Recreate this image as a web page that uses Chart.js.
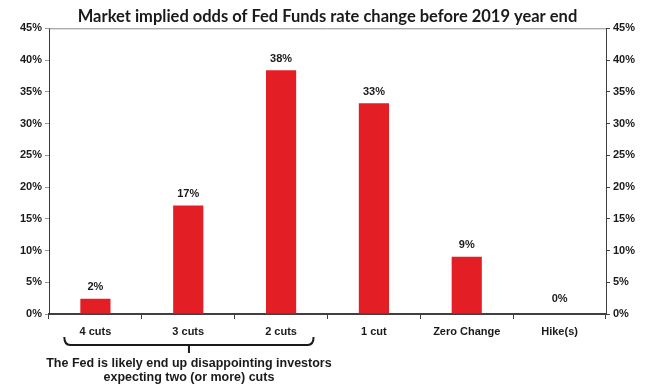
<!DOCTYPE html>
<html>
<head>
<meta charset="utf-8">
<script src="https://cdn.jsdelivr.net/npm/chart.js@4"></script>
<style>
  html, body { margin: 0; padding: 0; background: #fff; }
  #wrap { width: 655px; height: 387px; }
</style>
</head>
<body>
<div id="wrap"><canvas id="oddsChart" width="655" height="387"></canvas></div>
<script>
// Data
const categories = ["4 cuts", "3 cuts", "2 cuts", "1 cut", "Zero Change", "Hike(s)"];
const odds = [2.4, 17.1, 38.4, 33.2, 9.0, 0];
const oddsLabels = ["2%", "17%", "38%", "33%", "9%", "0%"];
const yTicks = [0, 5, 10, 15, 20, 25, 30, 35, 40, 45];
const noteLines = ["The Fed is likely end up disappointing investors", "expecting two (or more) cuts"];

const tickFont = { family: "'Liberation Sans', Arial, sans-serif", size: 11, weight: "bold" };

// labels on top of bars + top frame line + bracket note
const extrasPlugin = {
  id: "extras",
  afterDatasetsDraw(chart) {
    const ctx = chart.ctx;
    const area = chart.chartArea;
    const meta = chart.getDatasetMeta(0);
    ctx.save();
    // top border
    ctx.strokeStyle = "#8c8c8c";
    ctx.lineWidth = 1;
    ctx.beginPath();
    ctx.moveTo(area.left, area.top + 0.5);
    ctx.lineTo(area.right, area.top + 0.5);
    ctx.stroke();

    // value labels
    ctx.fillStyle = "#1a1a1a";
    ctx.font = "bold 11px 'Liberation Sans', Arial, sans-serif";
    ctx.textAlign = "center";
    ctx.textBaseline = "bottom";
    meta.data.forEach((bar, i) => {
      const gap = odds[i] === 0 ? 10 : 6;
      ctx.fillText(oddsLabels[i], bar.x, bar.y - gap);
    });

    // bracket under the first three categories
    const x = chart.scales.x;
    const half = (x.getPixelForValue(1) - x.getPixelForValue(0)) / 2;
    const x0 = x.getPixelForValue(0) - half * 0.67;
    const x1 = x.getPixelForValue(2) + half * 0.7;
    const mid = (x0 + x1) / 2;
    const yTop = 337, yBot = 345;
    ctx.strokeStyle = "#1a1a1a";
    ctx.lineWidth = 2;
    ctx.beginPath();
    ctx.moveTo(x0, yTop);
    ctx.quadraticCurveTo(x0, yBot, x0 + 6, yBot);
    ctx.lineTo(x1 - 6, yBot);
    ctx.quadraticCurveTo(x1, yBot, x1, yTop);
    ctx.moveTo(mid, yBot);
    ctx.lineTo(mid, yBot + 8);
    ctx.stroke();

    ctx.font = "bold 12.5px 'Liberation Sans', Arial, sans-serif";
    ctx.textBaseline = "middle";
    ctx.fillText(noteLines[0], mid, 364);
    ctx.fillText(noteLines[1], mid, 378);
    ctx.restore();
  }
};

const oddsEl = document.getElementById("oddsChart");
if (oddsEl) {
  const oddsCtx = oddsEl.getContext("2d");
  new Chart(oddsCtx, {
    type: "bar",
    data: {
      labels: categories,
      datasets: [
        {
          label: "Odds",
          data: odds,
          backgroundColor: "#e31e24",
          borderWidth: 0,
          barPercentage: 0.65,
          categoryPercentage: 0.5,
          yAxisID: "y",
        },
      ],
    },
    options: {
      responsive: false,
      animation: false,
      layout: { padding: 0 },
      plugins: {
        legend: { display: false },
        tooltip: { enabled: false },
        title: {
          display: true,
          text: "Market implied odds of Fed Funds rate change before 2019 year end",
          color: "#1a1a1a",
          font: { family: "Lato, 'Open Sans', sans-serif", size: 16.5, weight: "bold" },
          padding: { top: 7, bottom: 1.5 },
        },
      },
      scales: {
        x: {
          grid: {
            display: true,
            drawOnChartArea: false,
            offset: true,
            tickLength: 5,
            color: "#404040",
          },
          border: { color: "#404040", width: 2 },
          ticks: { color: "#1a1a1a", font: tickFont, padding: 6, maxRotation: 0, autoSkip: false },
          afterFit(scale) { scale.height = 73; },
        },
        y: {
          position: "left",
          min: 0,
          max: 45,
          afterBuildTicks(scale) { scale.ticks = yTicks.map(v => ({ value: v })); },
          grid: { drawOnChartArea: false, tickLength: 4, color: "#8c9bb0" },
          border: { color: "#1f3b63", width: 1 },
          ticks: { color: "#1a1a1a", font: tickFont, padding: 3, callback: v => v + "%" },
          afterFit(scale) { scale.width = 49; },
        },
        y2: {
          position: "right",
          min: 0,
          max: 45,
          afterBuildTicks(scale) { scale.ticks = yTicks.map(v => ({ value: v })); },
          grid: { drawOnChartArea: false, tickLength: 4, color: "#404040" },
          border: { color: "#404040", width: 1 },
          ticks: { color: "#1a1a1a", font: tickFont, padding: 3, callback: v => v + "%" },
          afterFit(scale) { scale.width = 49; },
        },
      },
    },
    plugins: [extrasPlugin],
  });
}
</script>
</body>
</html>
